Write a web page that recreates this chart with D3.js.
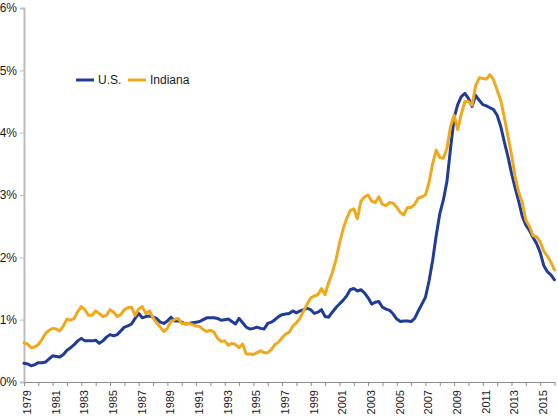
<!DOCTYPE html>
<html>
<head>
<meta charset="utf-8">
<script src="https://cdn.jsdelivr.net/npm/d3@7"></script>
<style>
  html, body { margin: 0; padding: 0; background: #fff; }
  svg { display: block; font-family: "Liberation Sans", Arial, sans-serif; }
</style>
</head>
<body>
<svg id="chart" width="558" height="417"></svg>
<script>
// Quarterly series, 1979 Q1 through 2016 Q1 (percent)
const startYear = 1979;
const seriesNames = ["U.S.", "Indiana"];
const usValues = [
  0.30, 0.29, 0.26, 0.28, 0.31, 0.31, 0.32, 0.37, 0.42, 0.41,
  0.40, 0.44, 0.51, 0.55, 0.60, 0.66, 0.70, 0.66, 0.66, 0.66,
  0.67, 0.62, 0.66, 0.72, 0.76, 0.74, 0.76, 0.82, 0.88, 0.90,
  0.93, 1.02, 1.10, 1.03, 1.05, 1.06, 1.04, 1.02, 0.96, 0.94,
  0.98, 1.04, 0.98, 0.98, 0.96, 0.93, 0.94, 0.95, 0.96, 0.97,
  1.00, 1.03, 1.03, 1.03, 1.02, 0.99, 1.00, 1.01, 0.97, 0.93,
  1.02, 0.95, 0.88, 0.85, 0.86, 0.88, 0.86, 0.85, 0.94, 0.96,
  1.00, 1.05, 1.08, 1.09, 1.10, 1.14, 1.11, 1.14, 1.16, 1.18,
  1.16, 1.10, 1.12, 1.16, 1.05, 1.04, 1.12, 1.19, 1.25, 1.31,
  1.38, 1.48, 1.50, 1.46, 1.48, 1.43, 1.35, 1.25, 1.28, 1.29,
  1.20, 1.17, 1.15, 1.09, 1.01, 0.97, 0.98, 0.98, 0.97, 1.02,
  1.14, 1.25, 1.36, 1.62, 1.95, 2.35, 2.70, 2.92, 3.22, 3.75,
  4.24, 4.45, 4.58, 4.63, 4.55, 4.42, 4.60, 4.52, 4.45, 4.43,
  4.40, 4.37, 4.28, 4.10, 3.85, 3.62, 3.35, 3.12, 2.90, 2.66,
  2.52, 2.43, 2.32, 2.22, 2.08, 1.87, 1.77, 1.72, 1.64
];
const indianaValues = [
  0.63, 0.61, 0.55, 0.56, 0.60, 0.68, 0.78, 0.83, 0.86, 0.85,
  0.82, 0.90, 1.01, 0.99, 1.02, 1.13, 1.21, 1.16, 1.07, 1.07,
  1.14, 1.10, 1.05, 1.07, 1.16, 1.12, 1.05, 1.08, 1.16, 1.19,
  1.20, 1.07, 1.17, 1.21, 1.10, 1.14, 1.03, 0.95, 0.88, 0.81,
  0.86, 0.97, 1.00, 1.02, 0.94, 0.94, 0.94, 0.92, 0.90, 0.89,
  0.84, 0.81, 0.83, 0.80, 0.70, 0.65, 0.66, 0.59, 0.62, 0.60,
  0.55, 0.61, 0.45, 0.45, 0.44, 0.47, 0.50, 0.47, 0.47, 0.52,
  0.60, 0.64, 0.71, 0.77, 0.80, 0.90, 0.95, 1.02, 1.14, 1.25,
  1.35, 1.38, 1.40, 1.50, 1.40, 1.60, 1.75, 1.95, 2.22, 2.45,
  2.62, 2.75, 2.78, 2.62, 2.90, 2.97, 3.00, 2.90, 2.88, 2.97,
  2.85, 2.83, 2.88, 2.87, 2.80, 2.72, 2.68, 2.80, 2.80, 2.85,
  2.95, 2.97, 3.00, 3.20, 3.50, 3.72, 3.60, 3.59, 3.75, 4.10,
  4.28, 4.05, 4.30, 4.50, 4.50, 4.44, 4.75, 4.88, 4.87, 4.86,
  4.93, 4.85, 4.68, 4.52, 4.25, 3.95, 3.65, 3.30, 3.05, 2.88,
  2.60, 2.50, 2.35, 2.33, 2.25, 2.10, 2.02, 1.92, 1.80
];
const yTicks = [0, 1, 2, 3, 4, 5, 6];
const yearTicks = d3.range(1979, 2017);
const yearLabels = d3.range(1979, 2016, 2);
const colors = ["#1f3d98", "#f0a81c"];

const svg = d3.select("#chart");
const x = d3.scaleLinear().domain([1979, 2016]).range([24, 554.5]);
const y = d3.scaleLinear().domain([0, 6]).range([382, 8]);

// Y axis
const yAxis = svg.append("g").attr("transform", "translate(24,0)")
  .call(d3.axisLeft(y).tickValues(yTicks).tickFormat(d => d + "%").tickSize(4).tickPadding(3));
yAxis.select(".domain").attr("stroke", "#bdbdbd").attr("stroke-width", 2);
yAxis.selectAll(".tick line").attr("stroke", "#bdbdbd");
yAxis.selectAll(".tick text").attr("font-size", 12).attr("fill", "#1a1a1a")
  .attr("font-family", "Liberation Sans, Arial, sans-serif");

// X axis
const xAxis = svg.append("g").attr("transform", "translate(0,382)")
  .call(d3.axisBottom(x).tickValues(yearTicks).tickFormat("").tickSize(4).tickSizeOuter(0));
xAxis.select(".domain").attr("stroke", "#8c8c8c");
xAxis.selectAll(".tick line").attr("stroke", "#8c8c8c");

svg.append("g").selectAll("text").data(yearLabels).join("text")
  .attr("transform", d => `translate(${x(d) + 4},390) rotate(-90)`)
  .attr("text-anchor", "end")
  .attr("dominant-baseline", "middle")
  .attr("font-size", 11)
  .attr("fill", "#1a1a1a")
  .text(d => d);

// Lines
const line = d3.line()
  .x((d, i) => x(startYear + i / 4))
  .y(d => y(d));
[usValues, indianaValues].forEach((vals, k) => {
  svg.append("path").datum(vals)
    .attr("fill", "none")
    .attr("stroke", colors[k])
    .attr("stroke-width", 3)
    .attr("stroke-linejoin", "round")
    .attr("stroke-linecap", "round")
    .attr("d", line);
});

// Legend
const legendX = [76, 128];
seriesNames.forEach((name, k) => {
  const g = svg.append("g").attr("transform", `translate(${legendX[k]},80)`);
  g.append("line").attr("x1", 0).attr("x2", 18).attr("y1", 0).attr("y2", 0)
    .attr("stroke", colors[k]).attr("stroke-width", 3);
  g.append("text").attr("x", 22).attr("y", 0).attr("dy", "0.35em")
    .attr("font-size", 12).attr("fill", "#1a1a1a").text(name);
});
</script>
</body>
</html>
